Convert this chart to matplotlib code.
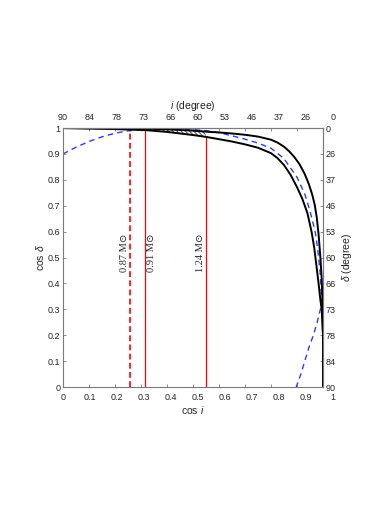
import numpy as np
import matplotlib
matplotlib.use('Agg')
import matplotlib.pyplot as plt
from matplotlib.transforms import ScaledTranslation

plt.rcParams['font.family'] = ['Liberation Sans', 'DejaVu Sans']
plt.rcParams['mathtext.fontset'] = 'custom'
plt.rcParams['mathtext.rm'] = 'Liberation Sans'
plt.rcParams['mathtext.it'] = 'Liberation Sans:italic'
plt.rcParams['hatch.linewidth'] = 0.6

# upper black curve (cos i, cos delta)
up_cosi = [0, 0.1, 0.2, 0.3, 0.4, 0.5, 0.55, 0.6, 0.65, 0.7, 0.75, 0.8, 0.825, 0.85, 0.87,
           0.89, 0.91, 0.93, 0.945, 0.958, 0.968, 0.976, 0.983, 0.99, 0.995, 0.998, 1.0, 1.0]
up_cosd = [1.0, 0.9995, 0.999, 0.998, 0.995, 0.990, 0.986, 0.983, 0.979, 0.974, 0.967,
           0.955, 0.944, 0.928, 0.910, 0.888, 0.860, 0.822, 0.785, 0.745, 0.705, 0.655,
           0.59, 0.50, 0.42, 0.33, 0.2, 0.0]

# lower black curve
lo_cosi = [0, 0.1, 0.2, 0.25, 0.317, 0.4, 0.45, 0.5, 0.549, 0.6, 0.65, 0.7, 0.75, 0.8,
           0.825, 0.85, 0.875, 0.9, 0.92, 0.94, 0.956, 0.966, 0.975, 0.983, 0.99, 0.995,
           1.0, 1.0]
lo_cosd = [1.0, 0.998, 0.996, 0.994, 0.992, 0.985, 0.979, 0.973, 0.966, 0.957, 0.948,
           0.937, 0.924, 0.903, 0.884, 0.857, 0.820, 0.772, 0.728, 0.672, 0.600, 0.540,
           0.467, 0.40, 0.336, 0.30, 0.2, 0.0]

# blue dashed curve
blue_cosi = [0.0, 0.05, 0.10, 0.15, 0.20, 0.25, 0.30, 0.35, 0.40, 0.45, 0.50, 0.55, 0.60,
             0.65, 0.70, 0.75, 0.80, 0.85, 0.90, 0.93, 0.95, 0.97, 0.98, 0.99, 0.995,
             0.99, 0.975, 0.963, 0.945, 0.93, 0.915, 0.897]
blue_cosd = [0.900, 0.926, 0.948, 0.966, 0.980, 0.989, 0.994, 0.996, 0.997, 0.996, 0.994,
             0.990, 0.982, 0.970, 0.957, 0.942, 0.922, 0.882, 0.810, 0.745, 0.680, 0.600,
             0.530, 0.430, 0.320, 0.30, 0.24, 0.20, 0.15, 0.10, 0.05, 0.0]

# hatched region
hatch_cosi = [0.317, 0.35, 0.40, 0.45, 0.50, 0.549]
hatch_top = [0.995, 0.996, 0.997, 0.996, 0.994, 0.991]
hatch_bot = [0.992, 0.989, 0.985, 0.979, 0.973, 0.966]

# mass lines
mass_cosi = [0.258, 0.317, 0.549]
mass_top = [0.99, 0.992, 0.966]
mass_style = ['--', '-', '-']
mass_labels = ['0.87 M\u2299', '0.91 M\u2299', '1.24 M\u2299']
mass_text_x = [0.238, 0.342, 0.527]

ticks = np.round(np.arange(0, 1.01, 0.1), 1)
bottom_labels = ['0', '0.1', '0.2', '0.3', '0.4', '0.5', '0.6', '0.7', '0.8', '0.9', '1']
deg_labels = ['90', '84', '78', '73', '66', '60', '53', '46', '37', '26', '0']

fig = plt.figure(figsize=(3.74, 5.28), dpi=100)
ax = fig.add_axes([0.1684, 0.267, 0.6952, 0.4905])

gray = '#7a7a7a'
txt = '#262626'

ax.fill_between(hatch_cosi, hatch_bot, hatch_top, facecolor='none', edgecolor='#333333',
                hatch='\\\\\\\\\\\\\\\\', linewidth=0)
for x, top, ls in zip(mass_cosi, mass_top, mass_style):
    if ls == '--':
        ax.plot([x, x], [0, top], color='red', lw=1.2, ls=(0, (3.5, 2)))
    else:
        ax.plot([x, x], [0, top], color='red', lw=0.9)
ax.plot(blue_cosi, blue_cosd, color='#2a3cff', lw=1.0, ls=(0, (4, 3)))
ax.plot(up_cosi, up_cosd, color='k', lw=1.4)
ax.plot(lo_cosi, lo_cosd, color='k', lw=1.4)

for x, lab in zip(mass_text_x, mass_labels):
    ax.text(x, 0.517, lab, rotation=90, ha='center', va='center', fontsize=7.5,
            color=txt, family=['Liberation Serif', 'DejaVu Serif'])

ax.set_xlim(0, 1)
ax.set_ylim(0, 1)

for s in ax.spines.values():
    s.set_color(gray)
    s.set_linewidth(0.8)

ax.set_xticks(ticks)
ax.set_xticklabels(bottom_labels)
ax.set_yticks(ticks)
ax.set_yticklabels(bottom_labels)
ax.tick_params(direction='in', length=2.5, width=0.6, color=gray, labelsize=6.5,
               labelcolor=txt)
ax.tick_params(axis='x', pad=4)
ax.tick_params(axis='y', pad=2)

top = ax.secondary_xaxis('top')
top.set_xticks(ticks)
top.set_xticklabels(deg_labels)
top.tick_params(direction='in', length=2.5, width=0.6, color=gray, labelsize=6.5,
                labelcolor=txt, pad=4)
top.spines['top'].set_color(gray)
top.spines['top'].set_linewidth(0.8)

right = ax.secondary_yaxis('right')
right.set_yticks(ticks)
right.set_yticklabels(deg_labels)
right.tick_params(direction='in', length=2.5, width=0.6, color=gray, labelsize=6.5,
                  labelcolor=txt, pad=2)
right.spines['right'].set_color(gray)
right.spines['right'].set_linewidth(0.8)

# tick labels drift slightly to the right, as in the original
for labs in (ax.get_xticklabels(), top.get_xticklabels()):
    for k, lab in enumerate(labs):
        lab.set_transform(lab.get_transform() +
                          ScaledTranslation(k * 0.01, 0, fig.dpi_scale_trans))

ax.set_xlabel('cos $\\mathit{i}$', fontsize=7.5, color=txt, labelpad=1.5)
ax.set_ylabel('cos $\\mathit{\\delta}$', fontsize=7.5, color=txt, labelpad=1)
top.set_xlabel('$\\mathit{i}$ (degree)', fontsize=7.5, color=txt, labelpad=3)
right.set_ylabel('$\\mathit{\\delta}$ (degree)', fontsize=7.5, color=txt, labelpad=3)

fig.savefig('out.png', dpi=100)
